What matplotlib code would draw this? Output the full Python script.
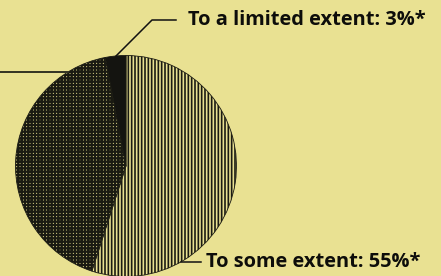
import matplotlib.pyplot as plt

# pie values
labels = ['To some extent', 'To a great extent', 'To a limited extent']
values = [55, 42, 3]
hatches = ['|' * 5, '+' * 5, None]
hatch_lw = [1.2, 1.6, 0.5]
faces = ['#e9e192', '#e9e192', '#141410']

bg = '#e9e192'

fig = plt.figure(figsize=(4.41, 2.76), dpi=100, facecolor=bg)
ax = fig.add_axes([0, 0, 1, 1])
ax.set_facecolor(bg)

# work in pixel-like units, y measured from the bottom
cx, cy, r = 126, 276 - 166, 110.5
wedges, _ = ax.pie(values, center=(cx, cy), radius=r, startangle=90,
                   counterclock=False, colors=faces,
                   wedgeprops=dict(edgecolor='#1a1a12', linewidth=0.6))
for w, h, lw in zip(wedges, hatches, hatch_lw):
    if h:
        w.set_hatch(h)
        w._hatch_linewidth = lw

ax.set_xlim(0, 441)
ax.set_ylim(0, 276)
ax.set_aspect('equal')
ax.axis('off')

font = dict(family=['Open Sans', 'DejaVu Sans'], fontweight='bold',
            fontsize=14.4, color='#0d0d0a', va='center')

# leader lines and labels (the left label sits outside the crop)
ax.plot([116, 152, 176], [276 - 56, 276 - 20, 276 - 20], color='#111111', lw=1.1)
ax.text(188, 276 - 20, f'{labels[2]}: {values[2]}%*', **font)

ax.plot([181, 201], [276 - 262, 276 - 262], color='#111111', lw=1.1)
ax.text(206, 276 - 262, f'{labels[0]}: {values[0]}%*', **font)

ax.plot([-5, 68], [276 - 72, 276 - 72], color='#333322', lw=1.4)

fig.savefig('out.png', dpi=100, facecolor=bg)
